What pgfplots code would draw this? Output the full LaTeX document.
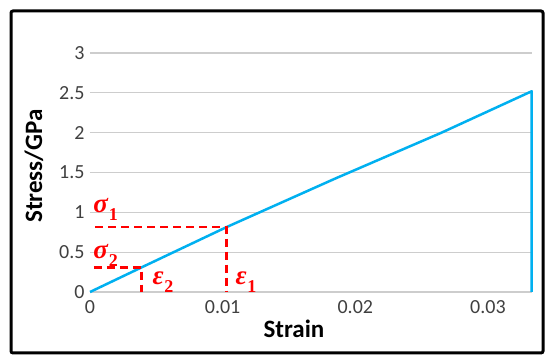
\documentclass[border=0pt]{standalone}
\usepackage{fontspec}
\setmainfont{Carlito}
\newfontfamily\grk{Liberation Serif}
\usepackage{pgfplots}
\pgfplotsset{compat=1.18}
\definecolor{lineblue}{RGB}{0,176,240}
\definecolor{gridgray}{RGB}{205,205,205}
\newcommand{\glab}[2]{{\grk\bfseries\itshape #1\kern0.03em\raisebox{-0.3em}{\fontsize{18}{18}\selectfont\upshape #2}}}
\begin{document}
\begin{tikzpicture}
\fill[white] (0,0) rectangle (550pt,361pt);
\begin{axis}[
  at={(90pt,69pt)}, anchor=south west,
  scale only axis, width=442pt, height=239pt,
  xmin=0, xmax=0.03332, ymin=0, ymax=3,
  axis line style={draw=none},
  major tick length=0pt,
  scaled x ticks=false, scaled y ticks=false,
  xtick={0,0.01,0.02,0.03}, xticklabels={0,0.01,0.02,0.03},
  ytick={0,0.5,1,1.5,2,2.5,3}, yticklabels={0,0.5,1,1.5,2,2.5,3},
  ticklabel style={font=\fontsize{20}{22}\selectfont, text=black!75},
  yticklabel style={xshift=-2pt},
  xticklabel style={yshift=-5pt},
  clip=false,
]
\pgfplotsinvokeforeach{0,0.5,1,1.5,2,2.5,3}{
  \draw[gridgray, line width=1.3pt] (axis cs:0,#1) -- (axis cs:0.03332,#1);
}
\addplot[color=lineblue, line width=2.5pt, line join=round] coordinates {
  (0,0) (0.0039,0.31) (0.0103,0.815) (0.0185,1.425) (0.0265,2.0) (0.0333,2.52) (0.0333,0)
};
\addplot[color=red, line width=2.5pt, dash pattern=on 8pt off 5pt] coordinates {
  (0.0004,0.815) (0.0103,0.815) (0.0103,0)
};
\addplot[color=red, line width=2.5pt, dash pattern=on 8pt off 5pt] coordinates {
  (0.0003,0.31) (0.0039,0.31) (0.0039,0)
};
\node[text=red, font=\fontsize{27}{29}\selectfont] at (axis cs:0.00118,1.04) {\glab{σ}{1}};
\node[text=red, font=\fontsize{27}{29}\selectfont] at (axis cs:0.00118,0.455) {\glab{σ}{2}};
\node[text=red, font=\fontsize{27}{29}\selectfont] at (axis cs:0.0055,0.12) {\glab{ε}{2}};
\node[text=red, font=\fontsize{27}{29}\selectfont] at (axis cs:0.01176,0.12) {\glab{ε}{1}};
\end{axis}
\node[font=\bfseries\fontsize{25}{27}\selectfont] at (294pt,32pt) {Strain};
\node[font=\bfseries\fontsize{25}{27}\selectfont, rotate=90] at (34pt,195pt) {Stress/GPa};
\draw[line width=3pt, rounded corners=2pt] (11pt,8pt) rectangle (543pt,350pt);
\path (0,0) rectangle (550pt,361pt);
\end{tikzpicture}
\end{document}
